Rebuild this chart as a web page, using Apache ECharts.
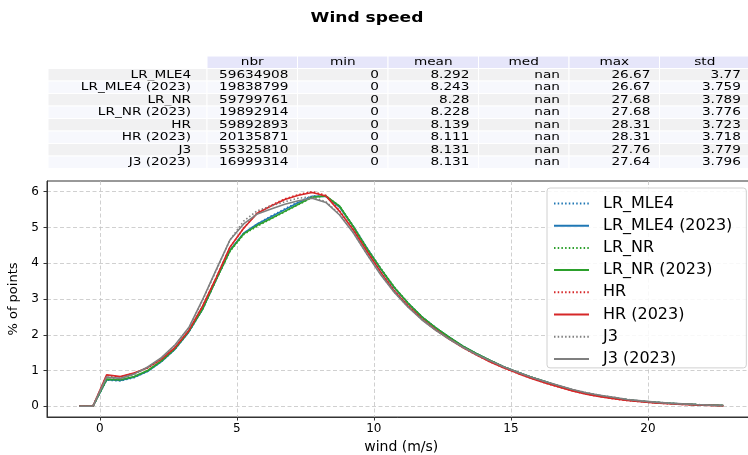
<!DOCTYPE html>
<html><head><meta charset="utf-8">
<script src="https://cdn.jsdelivr.net/npm/echarts@6/dist/echarts.min.js"></script>
<style>html,body{margin:0;padding:0;background:#fff}#c{width:748px;height:455px}</style>
</head><body><div id="c"></div>
<script>
// ---------- data ----------
const titleText = 'Wind speed';
const colHeaders = ['nbr', 'min', 'mean', 'med', 'max', 'std'];
const rowLabels = ['LR_MLE4', 'LR_MLE4 (2023)', 'LR_NR', 'LR_NR (2023)', 'HR', 'HR (2023)', 'J3', 'J3 (2023)'];
const colNbr  = ['59634908', '19838799', '59799761', '19892914', '59892893', '20135871', '55325810', '16999314'];
const colMin  = ['0', '0', '0', '0', '0', '0', '0', '0'];
const colMean = ['8.292', '8.243', '8.28', '8.228', '8.139', '8.111', '8.131', '8.131'];
const colMed  = ['nan', 'nan', 'nan', 'nan', 'nan', 'nan', 'nan', 'nan'];
const colMax  = ['26.67', '26.67', '27.68', '27.68', '28.31', '28.31', '27.76', '27.64'];
const colStd  = ['3.77', '3.759', '3.789', '3.776', '3.723', '3.718', '3.779', '3.796'];

const xTicks = [0, 5, 10, 15, 20];
const yTicks = [0, 1, 2, 3, 4, 5, 6];
const xName = 'wind (m/s)';
const yName = '% of points';

const windBins = [-0.75, -0.25, 0.25, 0.75, 1.25, 1.75, 2.25, 2.75, 3.25, 3.75, 4.25, 4.75, 5.25, 5.75, 6.25, 6.75,
  7.25, 7.75, 8.25, 8.75, 9.25, 9.75, 10.25, 10.75, 11.25, 11.75, 12.25, 12.75, 13.25, 13.75, 14.25, 14.75,
  15.25, 15.75, 16.25, 16.75, 17.25, 17.75, 18.25, 18.75, 19.25, 19.75, 20.25, 20.75, 21.25, 21.75, 22.25, 22.75];

const lrMle4 = [0, 0, 0.73, 0.71, 0.8, 0.98, 1.25, 1.6, 2.08, 2.71, 3.55, 4.36, 4.84, 5.1, 5.32, 5.52,
  5.72, 5.88, 5.87, 5.58, 5.03, 4.42, 3.84, 3.31, 2.88, 2.5, 2.2, 1.93, 1.68, 1.47, 1.28, 1.1,
  0.95, 0.81, 0.69, 0.56, 0.45, 0.36, 0.29, 0.23, 0.18, 0.14, 0.11, 0.085, 0.063, 0.046, 0.032, 0.02];
const lrMle4_2023 = [0, 0, 0.74, 0.72, 0.81, 0.98, 1.25, 1.6, 2.08, 2.71, 3.55, 4.36, 4.84, 5.1, 5.3, 5.5,
  5.7, 5.87, 5.87, 5.57, 5.03, 4.42, 3.84, 3.31, 2.88, 2.5, 2.2, 1.93, 1.68, 1.47, 1.28, 1.1,
  0.95, 0.81, 0.69, 0.56, 0.45, 0.36, 0.29, 0.23, 0.18, 0.14, 0.11, 0.085, 0.063, 0.046, 0.032, 0.02];
const lrNr = [0, 0, 0.75, 0.73, 0.82, 0.99, 1.26, 1.61, 2.09, 2.71, 3.54, 4.33, 4.8, 5.04, 5.24, 5.44,
  5.64, 5.84, 5.88, 5.6, 5.04, 4.43, 3.86, 3.33, 2.89, 2.51, 2.2, 1.93, 1.68, 1.47, 1.28, 1.1,
  0.95, 0.81, 0.69, 0.56, 0.45, 0.36, 0.29, 0.23, 0.18, 0.14, 0.11, 0.085, 0.063, 0.046, 0.032, 0.02];
const lrNr_2023 = [0, 0, 0.76, 0.74, 0.83, 1.0, 1.27, 1.62, 2.1, 2.72, 3.55, 4.35, 4.82, 5.06, 5.25, 5.45,
  5.65, 5.85, 5.88, 5.6, 5.02, 4.4, 3.85, 3.32, 2.88, 2.5, 2.2, 1.93, 1.68, 1.47, 1.28, 1.1,
  0.95, 0.81, 0.69, 0.56, 0.45, 0.36, 0.29, 0.23, 0.18, 0.14, 0.11, 0.085, 0.063, 0.046, 0.032, 0.02];
const hr = [0, 0, 0.86, 0.82, 0.92, 1.07, 1.31, 1.64, 2.11, 2.79, 3.6, 4.44, 4.98, 5.42, 5.62, 5.8,
  5.92, 6.0, 5.9, 5.47, 4.94, 4.34, 3.76, 3.23, 2.81, 2.45, 2.15, 1.88, 1.64, 1.43, 1.24, 1.07,
  0.92, 0.78, 0.65, 0.54, 0.43, 0.34, 0.27, 0.21, 0.16, 0.125, 0.095, 0.072, 0.053, 0.038, 0.026, 0.016];
const hr_2023 = [0, 0, 0.88, 0.83, 0.93, 1.08, 1.32, 1.65, 2.12, 2.8, 3.6, 4.45, 4.98, 5.4, 5.6, 5.78,
  5.9, 5.98, 5.88, 5.45, 4.93, 4.33, 3.75, 3.22, 2.8, 2.44, 2.14, 1.88, 1.64, 1.43, 1.24, 1.07,
  0.92, 0.78, 0.65, 0.54, 0.43, 0.34, 0.27, 0.21, 0.16, 0.125, 0.095, 0.072, 0.053, 0.038, 0.026, 0.016];
const j3 = [0, 0, 0.8, 0.77, 0.89, 1.09, 1.35, 1.71, 2.19, 2.96, 3.8, 4.65, 5.18, 5.47, 5.6, 5.72,
  5.82, 5.86, 5.72, 5.37, 4.86, 4.26, 3.69, 3.19, 2.78, 2.43, 2.13, 1.88, 1.65, 1.45, 1.27, 1.1,
  0.95, 0.81, 0.69, 0.58, 0.47, 0.38, 0.31, 0.25, 0.19, 0.15, 0.115, 0.088, 0.066, 0.048, 0.033, 0.022];
const j3_2023 = [0, 0, 0.82, 0.78, 0.9, 1.1, 1.36, 1.72, 2.2, 2.98, 3.82, 4.65, 5.1, 5.38, 5.52, 5.65,
  5.75, 5.82, 5.7, 5.35, 4.85, 4.25, 3.68, 3.18, 2.77, 2.42, 2.13, 1.88, 1.65, 1.45, 1.27, 1.1,
  0.95, 0.81, 0.69, 0.58, 0.47, 0.38, 0.31, 0.25, 0.19, 0.15, 0.115, 0.088, 0.066, 0.048, 0.033, 0.022];

const seriesNames = rowLabels;
const seriesValues = [lrMle4, lrMle4_2023, lrNr, lrNr_2023, hr, hr_2023, j3, j3_2023];
const seriesColors = ['#1f77b4', '#1f77b4', '#2ca02c', '#2ca02c', '#d62728', '#d62728', '#7f7f7f', '#7f7f7f'];
const seriesDotted = [true, false, true, false, true, false, true, false];

// ---------- table graphic ----------
const FONT = 'DejaVu Sans';
const tbl = { left: 48, labelW: 159, colW: 90.5, headTop: 56, headH: 12.5, rowTop: 68.5, rowH: 12.5, sx: 1.24, fs: 11 };
const cols = [colNbr, colMin, colMean, colMed, colMax, colStd];
const g = [];
g.push({ type: 'text', x: 367, y: 18, scaleX: 1.22, silent: true,
  style: { text: titleText, fontSize: 14, fontWeight: 'bold', fontFamily: FONT, fill: '#000', align: 'center', verticalAlign: 'middle' } });
const dataLeft = tbl.left + tbl.labelW;
colHeaders.forEach((h, j) => {
  const x0 = dataLeft + j * tbl.colW;
  g.push({ type: 'rect', silent: true, shape: { x: x0, y: tbl.headTop, width: tbl.colW, height: tbl.headH },
    style: { fill: '#e6e6fa', stroke: '#fff', lineWidth: 1 } });
  g.push({ type: 'text', silent: true, x: x0 + tbl.colW / 2, y: tbl.headTop + tbl.headH / 2, scaleX: tbl.sx,
    style: { text: h, fontSize: tbl.fs, fontFamily: FONT, fill: '#000', align: 'center', verticalAlign: 'middle' } });
});
rowLabels.forEach((lab, i) => {
  const y0 = tbl.rowTop + i * tbl.rowH;
  const bg = i % 2 === 0 ? '#f1f1f2' : '#f7f8fd';
  g.push({ type: 'rect', silent: true, shape: { x: tbl.left, y: y0, width: tbl.labelW, height: tbl.rowH },
    style: { fill: bg, stroke: '#fff', lineWidth: 1 } });
  g.push({ type: 'text', silent: true, x: tbl.left + tbl.labelW * 0.9, y: y0 + tbl.rowH / 2, scaleX: tbl.sx,
    style: { text: lab, fontSize: tbl.fs, fontFamily: FONT, fill: '#000', align: 'right', verticalAlign: 'middle' } });
  cols.forEach((col, j) => {
    const x0 = dataLeft + j * tbl.colW;
    g.push({ type: 'rect', silent: true, shape: { x: x0, y: y0, width: tbl.colW, height: tbl.rowH },
      style: { fill: bg, stroke: '#fff', lineWidth: 1 } });
    g.push({ type: 'text', silent: true, x: x0 + tbl.colW * 0.9, y: y0 + tbl.rowH / 2, scaleX: tbl.sx,
      style: { text: col[i], fontSize: tbl.fs, fontFamily: FONT, fill: '#000', align: 'right', verticalAlign: 'middle' } });
  });
});

// ---------- chart ----------
const series = seriesNames.map((name, i) => ({
  name, type: 'line', symbol: 'none', showSymbol: false, animation: false,
  data: windBins.map((x, k) => [x, seriesValues[i][k]]),
  lineStyle: { color: seriesColors[i], width: 1.6, type: seriesDotted[i] ? [1.5, 2.2] : 'solid' },
  itemStyle: { color: seriesColors[i] }
}));

const chart = echarts.init(document.getElementById('c'), null, { renderer: 'canvas' });
chart.setOption({
  animation: false,
  textStyle: { fontFamily: FONT },
  grid: { left: 47, top: 181, right: -7.5, bottom: 38, show: true, borderColor: '#333', borderWidth: 1,
    containLabel: false, outerBoundsMode: 'none' },
  xAxis: {
    type: 'value', min: -1.925, max: 23.925,
    name: xName, nameLocation: 'middle', nameGap: 17,
    nameTextStyle: { fontSize: 14, color: '#000', fontFamily: FONT },
    axisLine: { show: true, onZero: false, lineStyle: { color: '#333', width: 1 } },
    axisTick: { show: true, inside: false, length: 3.5, customValues: xTicks, lineStyle: { color: '#333' } },
    axisLabel: { customValues: xTicks, fontSize: 12, color: '#000', margin: 6, fontFamily: FONT },
    splitLine: { show: true, lineStyle: { color: '#c4c4c4', width: 0.8, type: [4, 2.5] } }
  },
  yAxis: {
    type: 'value', min: -0.3, max: 6.3,
    name: yName, nameLocation: 'middle', nameGap: 19, nameRotate: 90,
    nameTextStyle: { fontSize: 13, color: '#000', fontFamily: FONT },
    axisLine: { show: true, onZero: false, lineStyle: { color: '#333', width: 1 } },
    axisTick: { show: true, inside: false, length: 3.5, customValues: yTicks, lineStyle: { color: '#333' } },
    axisLabel: { customValues: yTicks, fontSize: 12, color: '#000', margin: 8, fontFamily: FONT },
    splitLine: { show: true, lineStyle: { color: '#c4c4c4', width: 0.8, type: [4, 2.5] } }
  },
  legend: {
    orient: 'vertical', left: 547, top: 188,
    padding: [7.5, 14, 1, 6], itemGap: 6.2, itemWidth: 35, itemHeight: 14,
    backgroundColor: 'rgba(255,255,255,0.85)', borderColor: '#d0d0d0', borderWidth: 1, borderRadius: 3,
    itemStyle: { opacity: 0 },
    textStyle: { fontSize: 16, color: '#000', fontFamily: FONT, padding: [0, 0, 0, 9] },
    data: seriesNames
  },
  graphic: g,
  series
});
</script>
</body></html>
